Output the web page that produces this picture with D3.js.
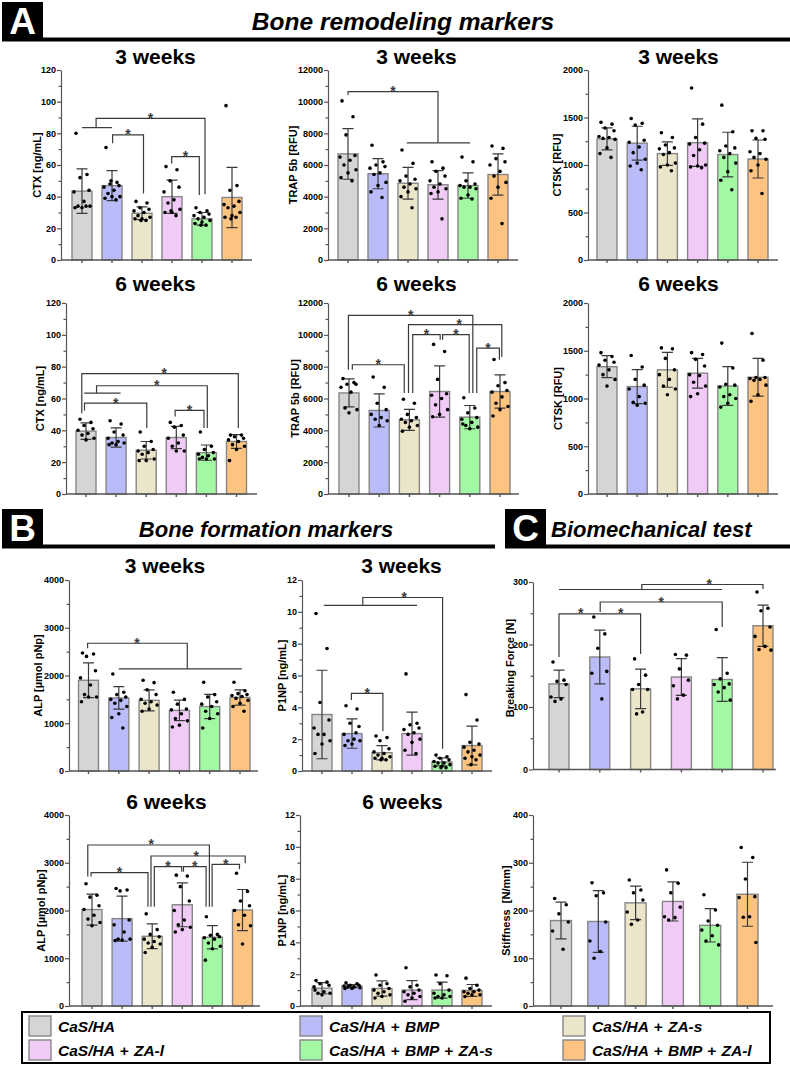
<!DOCTYPE html>
<html>
<head>
<meta charset="utf-8">
<script src="https://cdn.jsdelivr.net/npm/d3@7"></script>
<style>
  body { margin: 0; background: #fff; }
  svg { display: block; font-family: "Liberation Sans", Arial, sans-serif; }
</style>
</head>
<body>
<svg id="fig" width="790" height="1065"></svg>
<script>
(function () {
  'use strict';

  // groups, shared by every chart
  const groups = ['CaS/HA', 'CaS/HA + BMP', 'CaS/HA + ZA-s', 'CaS/HA + ZA-l', 'CaS/HA + BMP + ZA-s', 'CaS/HA + BMP + ZA-l'];
  const fills = ['#d5d5d5', '#b9bcf9', '#ebe6c9', '#efcbf6', '#a3f8a3', '#fcc480'];

  // y tick labels
  const ticksCtx = [0, 20, 40, 60, 80, 100, 120];
  const ticksTrap = [0, 2000, 4000, 6000, 8000, 10000, 12000];
  const ticksCtsk = [0, 500, 1000, 1500, 2000];
  const ticksAlp = [0, 1000, 2000, 3000, 4000];
  const ticksP1np = [0, 2, 4, 6, 8, 10, 12];
  const ticksForce = [0, 100, 200, 300];
  const ticksStiff = [0, 100, 200, 300, 400];

  // CTX, 3 weeks
  const ctx3Mean = [43.5, 47, 29.5, 40, 26, 39.5];
  const ctx3Sd = [14, 9.5, 4, 10.5, 4, 19];
  const ctx3Pts = [
    [80, 54, 52, 44, 43, 37, 34, 34, 33, 33, 34],
    [71, 49, 48, 47, 46, 44, 42, 40, 40, 39, 38, 50],
    [37, 36, 33, 32, 31, 30, 28, 27, 26, 26, 25, 25],
    [59, 57, 50, 46, 43, 38, 36, 32, 30, 30, 28, 31],
    [33, 31, 30, 29, 28, 27, 26, 25, 24, 23, 22, 22],
    [97.5, 47, 44, 37, 35, 34, 33, 30, 28, 27, 27, 26]
  ];
  const ctx3Sig = [
    { a: 0.47, b: 4.1, y: 89.5, ya: 83.6, yb: 41.5, barA: [0, 1] },
    { a: 1.02, b: 2.05, y: 79, ya: 73.7, yb: 42 },
    { a: 2.99, b: 3.91, y: 65.3, ya: 61, yb: 41 }
  ];

  // TRAP 5b, 3 weeks
  const trap3Mean = [6700, 5450, 4850, 4750, 4700, 5400];
  const trap3Sd = [1600, 950, 1000, 900, 800, 1300];
  const trap3Pts = [
    [10050, 9050, 7900, 6600, 6500, 6300, 6000, 5700, 5500, 5200, 5000],
    [7250, 6200, 6000, 5900, 5800, 5500, 5400, 4900, 4700, 4300, 3950],
    [6950, 6100, 5300, 5100, 5000, 4800, 4600, 4500, 4300, 4000, 3300],
    [6200, 5800, 5600, 5300, 5000, 4800, 4600, 4500, 4300, 4200, 2600],
    [6500, 6200, 5000, 4800, 4700, 4600, 4600, 4500, 4100, 3900, 3850],
    [7200, 7050, 6400, 6200, 6000, 5600, 5300, 4900, 4600, 3900, 2300]
  ];
  const trap3Sig = [
    { a: 0, b: 3, y: 10630, ya: 10420, yb: 7400, barB: [1.96, 4.07] }
  ];

  // CTSK, 3 weeks
  const ctsk3Mean = [1275, 1230, 1120, 1235, 1110, 1063];
  const ctsk3Sd = [115, 178, 123, 250, 235, 200];
  const ctsk3Pts = [
    [1450, 1430, 1390, 1360, 1300, 1290, 1280, 1270, 1180, 1120, 1080],
    [1490, 1440, 1420, 1260, 1240, 1190, 1130, 1060, 1020, 990, 950],
    [1340, 1290, 1210, 1180, 1170, 1130, 1110, 1020, 1000, 980, 940],
    [1810, 1430, 1290, 1230, 1220, 1160, 1100, 1000, 990, 980, 970],
    [1630, 1350, 1200, 1180, 1150, 1120, 1080, 1020, 930, 840, 740],
    [1360, 1360, 1280, 1270, 1140, 1120, 1080, 1060, 1000, 940, 700]
  ];

  // CTX, 6 weeks
  const ctx6Mean = [39.5, 35.5, 27.5, 35.5, 26, 33];
  const ctx6Sd = [5.2, 6, 5.5, 7, 4.8, 4.3];
  const ctx6Pts = [
    [47, 45, 43, 41, 40, 38, 37, 35, 34],
    [46, 44, 39, 37, 35, 33, 32, 32, 31, 31],
    [39, 33, 30, 28, 27, 26, 25, 22, 21, 21],
    [45, 43, 42, 37, 35, 32, 30, 27, 27],
    [39, 30, 28, 26, 25, 24, 23, 22, 22, 22],
    [37, 37, 36, 35, 34, 33, 31, 30, 28, 21]
  ];
  const ctx6Sig = [
    { a: -0.14, b: 5.06, y: 75.6, ya: 50.8, yb: 41.4, s: 2.6 },
    { a: 0.35, b: 4.03, y: 68, ya: 63.4, yb: 41.4, barA: [-0.06, 1.15], s: 2.35 },
    { a: -0.05, b: 2.02, y: 57.1, ya: 52.5, yb: 41.4 },
    { a: 2.96, b: 3.92, y: 52.5, ya: 48.7, yb: 41.4 }
  ];

  // TRAP 5b, 6 weeks
  const trap6Mean = [6350, 5250, 4660, 6440, 4830, 6440];
  const trap6Sd = [880, 1040, 660, 1610, 730, 1050];
  const trap6Pts = [
    [7250, 7000, 6900, 6900, 6700, 6400, 5400, 5300, 5100],
    [7350, 6700, 5700, 5300, 5000, 4800, 4700, 4600, 4300],
    [5950, 5700, 5000, 4800, 4700, 4600, 4500, 4300, 4200, 3950],
    [9400, 8950, 7200, 6300, 6200, 6000, 5600, 5300, 5000, 4850],
    [6050, 5400, 5100, 4800, 4700, 4500, 4300, 4200, 4100, 4400],
    [8450, 7000, 6800, 6500, 6400, 6100, 5700, 5500, 5300, 4900]
  ];
  const trap6Sig = [
    { a: -0.02, b: 4.1, y: 11225, ya: 7806, yb: 6340 },
    { a: 1.97, b: 5.06, y: 10640, ya: 6340, yb: 8600, s: 3.65 },
    { a: 2.11, b: 3.02, y: 10010, ya: 6340, yb: 9690 },
    { a: 3.1, b: 3.98, y: 10010, ya: 9690, yb: 6340 },
    { a: 0.11, b: 1.83, y: 8120, ya: 7806, yb: 6340 },
    { a: 4.23, b: 4.98, y: 9170, ya: 6340, yb: 8440 }
  ];

  // CTSK, 6 weeks
  const ctsk6Mean = [1333, 1125, 1300, 1265, 1130, 1222];
  const ctsk6Sd = [115, 178, 182, 156, 203, 198];
  const ctsk6Pts = [
    [1480, 1440, 1400, 1380, 1350, 1300, 1250, 1200, 1130],
    [1450, 1330, 1200, 1140, 1100, 1020, 960, 950, 930],
    [1530, 1520, 1420, 1300, 1250, 1200, 1130, 1100, 1040],
    [1480, 1460, 1410, 1340, 1250, 1240, 1170, 1130, 1050, 1020],
    [1580, 1320, 1150, 1140, 1120, 1040, 1020, 1000, 950, 910],
    [1680, 1400, 1220, 1220, 1210, 1200, 1190, 1140, 1040, 970]
  ];

  // ALP, 3 weeks
  const alp3Mean = [1900, 1530, 1480, 1270, 1350, 1540];
  const alp3Sd = [365, 235, 220, 215, 255, 160];
  const alp3Pts = [
    [2470, 2450, 2400, 2100, 1950, 1800, 1600, 1550, 1550, 1450],
    [2030, 1650, 1600, 1550, 1500, 1480, 1420, 1350, 1200, 1120, 900],
    [1900, 1850, 1700, 1600, 1500, 1450, 1420, 1380, 1300, 1250],
    [1650, 1500, 1400, 1300, 1280, 1200, 1100, 1050, 960, 920],
    [1860, 1600, 1550, 1450, 1400, 1350, 1250, 1200, 1100, 900],
    [1860, 1680, 1620, 1600, 1580, 1560, 1520, 1480, 1420, 1350, 1250]
  ];
  const alp3Sig = [
    { a: -0.03, b: 3.26, y: 2675, ya: 2570, yb: 2140, barB: [1, 5.06], s: 1.6 }
  ];

  // P1NP, 3 weeks
  const p1np3Mean = [3.55, 2.35, 1.15, 2.35, 0.57, 1.6];
  const p1np3Sd = [2.78, 0.92, 0.45, 1.35, 0.25, 1.22];
  const p1np3Pts = [
    [9.9, 7.7, 4.3, 3.2, 2.7, 2.3, 2.3, 1.9, 1.7, 1.1],
    [4.1, 3.9, 3.0, 2.8, 2.3, 2.0, 1.9, 1.9, 1.7, 1.6, 2.4],
    [2.2, 2.1, 1.9, 1.4, 1.2, 1.1, 1.0, 0.9, 0.8, 0.8, 0.7, 0.7],
    [6.1, 3.0, 2.9, 2.7, 2.6, 2.4, 2.3, 2.0, 1.8, 1.3, 1.1],
    [1.0, 0.9, 0.8, 0.7, 0.6, 0.5, 0.5, 0.4, 0.3, 0.3, 0.2, 0.2],
    [4.8, 3.2, 1.8, 1.7, 1.5, 1.3, 1.2, 1.0, 0.9, 0.8, 0.7, 0.4]
  ];
  const p1np3Sig = [
    { a: 1.36, b: 4.02, y: 10.9, ya: 10.4, yb: 1.4, barA: [0.06, 3.17], s: 2.74 },
    { a: 0.98, b: 2.03, y: 4.88, ya: 4.46, yb: 2.5 }
  ];

  // Breaking force
  const forceMean = [137, 180, 129, 148, 144, 230];
  const forceSd = [22, 43, 31.5, 29.5, 35, 33];
  const forcePts = [
    [172, 143, 141, 136, 116, 113, 109],
    [244, 217, 194, 157, 154, 113],
    [177, 151, 136, 128, 128, 92, 89],
    [184, 183, 161, 143, 134, 119, 113],
    [224, 154, 145, 137, 136, 131, 124, 111],
    [284, 258, 254, 228, 213, 197, 192, 191]
  ];
  const forceSig = [
    { a: 2.03, b: 5, y: 296, ya: 288, yb: 289, barA: [0, 4], s: 3.68 },
    { a: 1.01, b: 4, y: 268, ya: 252, yb: 228 },
    { a: 0, b: 1, y: 249, ya: 180, yb: 249, s: 0.53 },
    { a: 1, b: 2, y: 249, ya: 249, yb: 185, s: 1.51 }
  ];

  // ALP, 6 weeks
  const alp6Mean = [2020, 1830, 1460, 2120, 1440, 2010];
  const alp6Sd = [325, 470, 260, 460, 245, 430];
  const alp6Pts = [
    [2560, 2320, 2280, 2100, 2020, 1900, 1820, 1750, 1680],
    [2460, 2430, 2410, 1800, 1700, 1550, 1400, 1400, 1380, 1370],
    [1930, 1600, 1500, 1450, 1400, 1350, 1320, 1300, 1230, 1120],
    [2740, 2720, 2500, 2200, 2000, 1800, 1700, 1650, 1600, 1550],
    [1870, 1500, 1480, 1450, 1430, 1400, 1320, 1250, 1200, 960],
    [2780, 2400, 2200, 2100, 2000, 1900, 1700, 1680, 1300]
  ];
  const alp6Sig = [
    { a: -0.14, b: 3.9, y: 3372, ya: 2710, yb: 2080, s: 1.97 },
    { a: 1.96, b: 5.09, y: 3141, ya: 2080, yb: 2988, s: 3.46 },
    { a: -0.03, b: 1.86, y: 2792, ya: 2710, yb: 2080 },
    { a: 2.07, b: 2.98, y: 2918, ya: 2080, yb: 2813 },
    { a: 3.04, b: 3.79, y: 2918, ya: 2813, yb: 2080 },
    { a: 3.99, b: 4.9, y: 2967, ya: 2080, yb: 2862 }
  ];

  // P1NP, 6 weeks
  const p1np6Mean = [1.12, 1.25, 1.1, 1.0, 1.0, 0.98];
  const p1np6Sd = [0.35, 0.1, 0.48, 0.6, 0.5, 0.37];
  const p1np6Pts = [
    [1.6, 1.5, 1.4, 1.3, 1.2, 0.9, 0.8, 0.8, 0.7, 1.0],
    [1.45, 1.4, 1.3, 1.3, 1.25, 1.2, 1.2, 1.15, 1.1, 1.1],
    [1.95, 1.4, 1.3, 1.1, 1.0, 0.9, 0.8, 0.7, 0.6, 0.5],
    [2.4, 1.3, 1.2, 1.0, 0.9, 0.8, 0.7, 0.6, 0.5, 0.3],
    [1.95, 1.9, 1.4, 1.0, 0.8, 0.7, 0.6, 0.6, 0.5, 0.5],
    [1.75, 1.3, 1.1, 1.0, 0.9, 0.9, 0.8, 0.7, 0.7, 0.6]
  ];

  // Stiffness
  const stiffMean = [179, 177, 216, 219, 169, 234];
  const stiffSd = [38.5, 64.5, 35, 41, 35, 67];
  const stiffPts = [
    [225, 212, 193, 176, 157, 119],
    [258, 237, 231, 176, 136, 114, 100],
    [264, 243, 237, 222, 197, 180, 171],
    [285, 257, 237, 207, 187, 185, 180],
    [233, 201, 178, 169, 159, 147, 136, 128],
    [332, 311, 266, 229, 227, 187, 186, 133]
  ];

  // layout of each chart on the page
  const charts = [
    { mean: ctx3Mean, sd: ctx3Sd, pts: ctx3Pts, sig: ctx3Sig, ticks: ticksCtx, minor: 10, label: 'CTX [ng/mL]', title: '3 weeks',
      ax: 61, axEnd: 252, c0: 82, step: 30, bw: 20, top: 70, bottom: 260, tx: 155.5, ty: 63.5, lx: 37 },
    { mean: trap3Mean, sd: trap3Sd, pts: trap3Pts, sig: trap3Sig, ticks: ticksTrap, minor: 1000, label: 'TRAP 5b [RFU]', title: '3 weeks',
      ax: 328, axEnd: 518, c0: 348, step: 30, bw: 20, top: 70, bottom: 260, tx: 416.5, ty: 63.5, lx: 292.5 },
    { mean: ctsk3Mean, sd: ctsk3Sd, pts: ctsk3Pts, sig: [], ticks: ticksCtsk, minor: 250, label: 'CTSK [RFU]', title: '3 weeks',
      ax: 588, axEnd: 778, c0: 607, step: 30.2, bw: 20, top: 70, bottom: 260, tx: 678.5, ty: 63.5, lx: 557 },
    { mean: ctx6Mean, sd: ctx6Sd, pts: ctx6Pts, sig: ctx6Sig, ticks: ticksCtx, minor: 10, label: 'CTX [ng/mL]', title: '6 weeks',
      ax: 66, axEnd: 257, c0: 86, step: 30.1, bw: 20, top: 303, bottom: 494, tx: 155.5, ty: 290.5, lx: 40 },
    { mean: trap6Mean, sd: trap6Sd, pts: trap6Pts, sig: trap6Sig, ticks: ticksTrap, minor: 1000, label: 'TRAP 5b [RFU]', title: '6 weeks',
      ax: 328, axEnd: 519, c0: 349, step: 30.2, bw: 20, top: 303, bottom: 494, tx: 416.5, ty: 290.5, lx: 295 },
    { mean: ctsk6Mean, sd: ctsk6Sd, pts: ctsk6Pts, sig: [], ticks: ticksCtsk, minor: 250, label: 'CTSK [RFU]', title: '6 weeks',
      ax: 588, axEnd: 778, c0: 607, step: 30.2, bw: 20, top: 303, bottom: 494, tx: 678.5, ty: 290.5, lx: 558 },
    { mean: alp3Mean, sd: alp3Sd, pts: alp3Pts, sig: alp3Sig, ticks: ticksAlp, minor: 500, label: 'ALP [µmol pNp]', title: '3 weeks',
      ax: 69, axEnd: 258, c0: 88.5, step: 30.3, bw: 20, top: 580, bottom: 771, tx: 165, ty: 572.5, lx: 38 },
    { mean: p1np3Mean, sd: p1np3Sd, pts: p1np3Pts, sig: p1np3Sig, ticks: ticksP1np, minor: 1, label: 'P1NP [ng/mL]', title: '3 weeks',
      ax: 302, axEnd: 492, c0: 322, step: 30, bw: 20, top: 580, bottom: 771, tx: 401.5, ty: 572.5, lx: 281.5 },
    { mean: forceMean, sd: forceSd, pts: forcePts, sig: forceSig, ticks: ticksForce, minor: 50, label: 'Breaking Force [N]', title: '',
      ax: 533, axEnd: 776, c0: 559, step: 40.8, bw: 20, top: 582, bottom: 769.5, tx: 0, ty: 0, lx: 510, ly: 668 },
    { mean: alp6Mean, sd: alp6Sd, pts: alp6Pts, sig: alp6Sig, ticks: ticksAlp, minor: 500, label: 'ALP [µmol pNp]', title: '6 weeks',
      ax: 69, axEnd: 260, c0: 92, step: 30.1, bw: 20, top: 815, bottom: 1006, tx: 166.5, ty: 809, lx: 41 },
    { mean: p1np6Mean, sd: p1np6Sd, pts: p1np6Pts, sig: [], ticks: ticksP1np, minor: 1, label: 'P1NP [ng/mL]', title: '6 weeks',
      ax: 300, axEnd: 492, c0: 322, step: 30, bw: 20, top: 815, bottom: 1006, tx: 402.5, ty: 809, lx: 281.5 },
    { mean: stiffMean, sd: stiffSd, pts: stiffPts, sig: [], ticks: ticksStiff, minor: 50, label: 'Stiffness  [N/mm]', title: '',
      ax: 533, axEnd: 773, c0: 561, step: 37.3, bw: 21, top: 815, bottom: 1006, tx: 0, ty: 0, lx: 506 }
  ];

  // fixed horizontal scatter of the dots inside a bar
  const jitter = [-6, 5, -2, 7, -8, 2, -4, 8, 0, -7, 4, -1];

  const svg = d3.select('#fig');
  const AXIS = '#555';
  const INK = '#3a3a3a';

  function drawChart(c) {
    const g = svg.append('g');
    const yMax = c.ticks[c.ticks.length - 1];
    const y = d3.scaleLinear().domain([0, yMax]).range([c.bottom, c.top]);
    const pad = 1 - c.bw / c.step;
    const x = d3.scaleBand().domain(groups)
      .range([c.c0 - c.step / 2, c.c0 - c.step / 2 + groups.length * c.step])
      .paddingInner(pad).paddingOuter(pad / 2);
    const xi = i => x(groups[0]) + x.bandwidth() / 2 + i * x.step();

    // bars
    g.selectAll('rect.bar').data(c.mean).join('rect')
      .attr('class', 'bar')
      .attr('x', (d, i) => x(groups[i]))
      .attr('y', d => y(d))
      .attr('width', x.bandwidth())
      .attr('height', d => y(0) - y(d))
      .attr('fill', (d, i) => fills[i])
      .attr('stroke', '#868686')
      .attr('stroke-width', 1.4);

    // error bars
    const cap = 5.5;
    g.selectAll('path.err').data(c.mean).join('path')
      .attr('class', 'err')
      .attr('fill', 'none')
      .attr('stroke', INK)
      .attr('stroke-width', 1.2)
      .attr('d', (m, i) => {
        const cx = xi(i), hi = y(m + c.sd[i]), lo = y(Math.max(0, m - c.sd[i]));
        return `M${cx - cap},${hi}H${cx + cap}M${cx},${hi}V${lo}M${cx - cap},${lo}H${cx + cap}`;
      });

    // individual points
    const dots = [];
    c.pts.forEach((arr, i) => arr.forEach((v, j) => dots.push({ i, j, v })));
    g.selectAll('circle.dot').data(dots).join('circle')
      .attr('class', 'dot')
      .attr('cx', d => xi(d.i) + jitter[d.j % jitter.length] * c.bw / 20)
      .attr('cy', d => y(d.v))
      .attr('r', 1.8)
      .attr('fill', '#000');

    // y axis with minor ticks
    const minorTicks = d3.range(0, yMax + 1e-9, c.minor).filter(v => c.ticks.indexOf(v) < 0);
    const gyMinor = g.append('g').attr('transform', `translate(${c.ax},0)`)
      .call(d3.axisLeft(y).tickValues(minorTicks).tickSize(2.5).tickFormat(''));
    gyMinor.select('.domain').remove();
    const gy = g.append('g').attr('transform', `translate(${c.ax},0)`)
      .call(d3.axisLeft(y).tickValues(c.ticks).tickSize(4).tickSizeOuter(0).tickFormat(d3.format('d')));
    gy.selectAll('text').attr('font-size', 9).attr('font-weight', 'bold').attr('fill', '#000')
      .attr('font-family', '"Liberation Sans", Arial, sans-serif').attr('x', -5);
    [gy, gyMinor].forEach(s => s.selectAll('line, path').attr('stroke', AXIS).attr('stroke-width', 1.2));

    // x axis
    const gx = g.append('g').attr('transform', `translate(0,${c.bottom})`)
      .call(d3.axisBottom(x).tickSize(3).tickSizeOuter(0).tickFormat(''));
    gx.select('.domain').attr('d', `M${c.ax},0H${c.axEnd}`);
    gx.selectAll('line, path').attr('stroke', AXIS).attr('stroke-width', 1.4);

    // significance brackets
    const sg = g.append('g').attr('fill', 'none').attr('stroke', INK).attr('stroke-width', 1.2);
    c.sig.forEach(b => {
      sg.append('path').attr('d', `M${xi(b.a)},${y(b.ya)}V${y(b.y)}H${xi(b.b)}V${y(b.yb)}`);
      if (b.barA) sg.append('path').attr('d', `M${xi(b.barA[0])},${y(b.ya)}H${xi(b.barA[1])}`);
      if (b.barB) sg.append('path').attr('d', `M${xi(b.barB[0])},${y(b.yb)}H${xi(b.barB[1])}`);
      const sx = b.s !== undefined ? b.s : (b.a + b.b) / 2;
      g.append('text').attr('x', xi(sx)).attr('y', y(b.y) + 4.5)
        .attr('text-anchor', 'middle').attr('font-size', 14).attr('font-weight', 'bold')
        .attr('fill', INK).text('*');
    });

    // titles
    if (c.title) {
      g.append('text').attr('x', c.tx).attr('y', c.ty).attr('text-anchor', 'middle')
        .attr('font-size', 21).attr('font-weight', 'bold').text(c.title);
    }
    const ly = c.ly !== undefined ? c.ly : (c.top + c.bottom) / 2;
    g.append('text')
      .attr('transform', `translate(${c.lx},${ly}) rotate(-90)`)
      .attr('text-anchor', 'middle').attr('dominant-baseline', 'central')
      .attr('font-size', 11).attr('font-weight', 'bold').style('white-space', 'pre')
      .text(c.label);
  }

  charts.forEach(drawChart);

  // section headers
  const headers = [
    { letter: 'A', bx: 2, by: 2, lineEnd: 790, title: 'Bone remodeling markers', size: 24.5, anchor: 'middle', titleX: 403, titleY: 29.5 },
    { letter: 'B', bx: 2, by: 509, lineEnd: 495, title: 'Bone formation markers', size: 22, anchor: 'middle', titleX: 266, titleY: 537 },
    { letter: 'C', bx: 505, by: 509, lineEnd: 790, title: 'Biomechanical test', size: 22, anchor: 'start', titleX: 551, titleY: 537 }
  ];
  headers.forEach(h => {
    svg.append('rect').attr('x', h.bx).attr('y', h.by).attr('width', 41).attr('height', 38).attr('fill', '#000');
    svg.append('rect').attr('x', h.bx).attr('y', h.by + 35.5).attr('width', h.lineEnd - h.bx).attr('height', 4).attr('fill', '#000');
    svg.append('text').attr('x', h.bx + 20.5).attr('y', h.by + 32).attr('text-anchor', 'middle')
      .attr('font-size', 37).attr('font-weight', 'bold').attr('fill', '#fff').text(h.letter);
    svg.append('text').attr('x', h.titleX).attr('y', h.titleY).attr('text-anchor', h.anchor)
      .attr('font-size', h.size).attr('font-weight', 'bold').attr('font-style', 'italic').text(h.title);
  });

  // legend
  const legCols = [29, 300, 563];
  const legRows = [1016, 1040];
  svg.append('rect').attr('x', 22).attr('y', 1012).attr('width', 748).attr('height', 51)
    .attr('fill', 'none').attr('stroke', '#000').attr('stroke-width', 2);
  const leg = svg.append('g').selectAll('g').data(groups).join('g')
    .attr('transform', (d, i) => `translate(${legCols[i % 3]},${legRows[Math.floor(i / 3)]})`);
  leg.append('rect').attr('width', 22).attr('height', 20)
    .attr('fill', (d, i) => fills[i]).attr('stroke', '#868686').attr('stroke-width', 1.4);
  leg.append('text').attr('x', 29).attr('y', 16)
    .attr('font-size', 15.5).attr('font-weight', 'bold').attr('font-style', 'italic')
    .attr('word-spacing', 1).text(d => d);
})();
</script>
</body>
</html>
